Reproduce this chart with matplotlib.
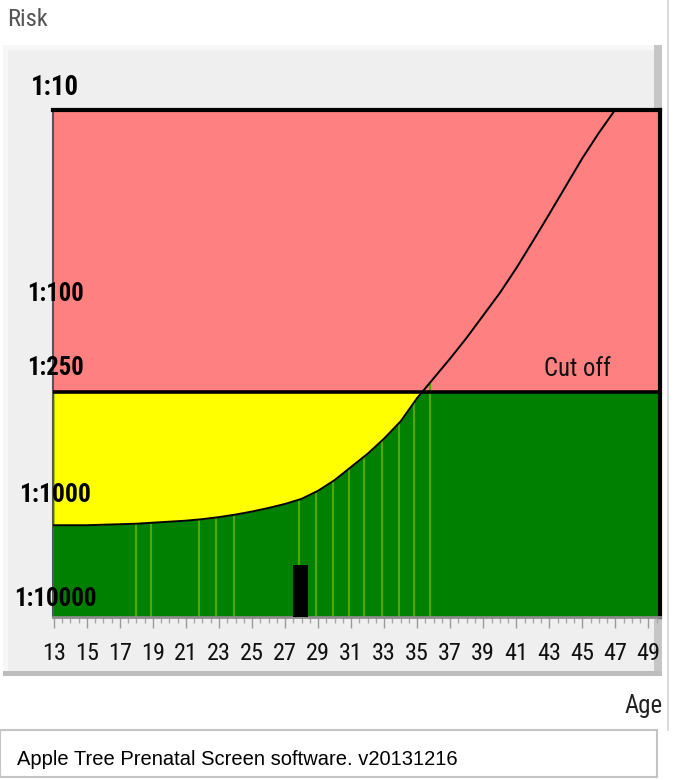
import os
import numpy as np
import matplotlib
matplotlib.use("Agg")
import matplotlib.pyplot as plt
from matplotlib.patches import Rectangle
from matplotlib.lines import Line2D
from matplotlib.ticker import MultipleLocator
from matplotlib import font_manager as fm
import matplotlib.transforms as mtrans

# ---------------- data ----------------
# x: maternal age, y: position on the risk axis (0 = bottom, 100 = top of plot)
ages = [13, 14, 15, 16, 17, 18, 19, 20, 21, 22, 23, 24, 25, 26, 27, 28, 29, 30,
        31, 32, 33, 34, 35, 36, 37, 38, 39, 40, 41, 42, 43, 44, 45, 46, 47]
risk_pos = [18.1, 18.1, 18.1, 18.2, 18.3, 18.4, 18.6, 18.8, 19.0, 19.3, 19.7,
            20.2, 20.8, 21.5, 22.3, 23.3, 24.9, 27.0, 29.6, 32.2, 35.2, 38.6,
            43.2, 47.1, 51.0, 55.1, 59.5, 63.9, 68.8, 74.1, 79.5, 85.0, 90.5,
            95.5, 100.1]
cutoff_pos = 44.4
cutoff_label = "Cut off"
marker_ages = [18.0, 18.9, 21.8, 22.8, 23.9, 27.85, 28.85, 29.9, 30.9, 31.8,
               32.85, 33.9, 34.8, 35.8]
bar_age = 27.93
bar_pos = 10.3
ytick_pos = [104.5, 63.7, 49.2, 24.1, 3.5]
ytick_labels = ["1:10", "1:100", "1:250", "1:1000", "1:10000"]
xtick_vals = list(range(13, 50, 2))
footer = "Apple Tree Prenatal Screen software. v20131216"


# ---------------- fonts: look for a narrow / condensed sans ----------------
def find_font(bold):
    entries = fm.fontManager.ttflist
    prefs = ["liberationsansnarrow", "arialnarrow", "robotocondensed",
             "notosans-condensed", "opensanscondensed", "dejavusanscondensed"]
    for p in prefs:
        for e in entries:
            b = os.path.basename(e.fname).lower().replace(" ", "")
            if p in b.replace("_", ""):
                isbold = "bold" in b
                if bold == isbold and "italic" not in b and "oblique" not in b \
                        and "semi" not in b and "extra" not in b and "light" not in b \
                        and "medium" not in b and "black" not in b and "thin" not in b:
                    return e.fname
    return None


f_reg = find_font(False)
f_bold = find_font(True)


def fprop(bold=False, size=12):
    path = f_bold if bold else f_reg
    if path:
        return fm.FontProperties(fname=path, size=size)
    return fm.FontProperties(family="Liberation Sans",
                             weight="bold" if bold else "normal", size=size)


W, H = 680, 780
fig = plt.figure(figsize=(W / 100, H / 100), dpi=100)
fig.patch.set_facecolor("white")


def fx(x):
    return x / W


def fy(y):
    return 1 - y / H


def prect(x0, y0, x1, y1, **kw):
    r = Rectangle((fx(x0), fy(y1)), fx(x1) - fx(x0), fy(y0) - fy(y1),
                  transform=fig.transFigure, **kw)
    fig.add_artist(r)
    return r


# grey panel with bevel
prect(3, 45, 662, 676, facecolor="#efefef", edgecolor="none", zorder=0)
prect(3, 45, 662, 50, facecolor="#f7f7f7", edgecolor="none", zorder=0)
prect(3, 45, 8, 676, facecolor="#f7f7f7", edgecolor="none", zorder=0)
prect(654, 45, 662, 676, facecolor="#c6c6c6", edgecolor="none", zorder=0)
prect(3, 671, 662, 676, facecolor="#bdbdbd", edgecolor="none", zorder=0)
fig.add_artist(Line2D([fx(668), fx(668)], [fy(0), fy(730)], color="#d4d4d4",
                      lw=1.2, transform=fig.transFigure, zorder=0))

# ---------------- main axes ----------------
ax = fig.add_axes([fx(53), fy(617), fx(660) - fx(53), fy(110) - fy(617)])
ax.set_xlim(12.95, 49.7)
ax.set_ylim(0, 100)
ax.set_facecolor("#008000")

ax.axhspan(cutoff_pos, 100, color="#ff8080", zorder=1, lw=0)
ages_a = np.array(ages, dtype=float)
risk_a = np.array(risk_pos)
ax.fill_between(ages_a, risk_a, cutoff_pos, where=risk_a <= cutoff_pos,
                interpolate=True, color="#ffff00", lw=0, zorder=1)

tops = np.interp(marker_ages, ages_a, risk_a)
ax.vlines(marker_ages, 0, tops, color="#52a800", lw=1.5, zorder=2)
ax.bar([bar_age], [bar_pos], width=0.9, color="black", zorder=3)

ax.axhline(cutoff_pos, color="black", lw=2.6, zorder=4)
ax.plot(ages_a, risk_a, color="black", lw=1.4, zorder=5)

fitted = []  # (text artist, target width in px)

t_cut = ax.text(42.7, cutoff_pos + 3.2, cutoff_label, fontproperties=fprop(False, 19),
                color="#111111", va="baseline", ha="left", zorder=6)
fitted.append((t_cut, 67))

# y labels centred on the left edge
trans = mtrans.blended_transform_factory(ax.transAxes, ax.transData)
ylab_widths = [48, 57, 57, 72, 83]
for p, lab, wd in zip(ytick_pos, ytick_labels, ylab_widths):
    t = ax.text(0.0035, p, lab, transform=trans, ha="center", va="center",
                fontproperties=fprop(True, 19), color="black",
                clip_on=False, zorder=7)
    fitted.append((t, wd))
ax.set_yticks([])

# x ruler
ax.set_xticks(xtick_vals)
ax.set_xticklabels([str(v) for v in xtick_vals], color="#111111")
for lbl in ax.get_xticklabels():
    lbl.set_fontproperties(fprop(False, 18))
ax.xaxis.set_minor_locator(MultipleLocator(0.5))
ax.tick_params(axis="x", which="major", length=8, width=1, color="#9a9a9a",
               pad=10)
ax.tick_params(axis="x", which="minor", length=4, width=1, color="#a8a8a8")

for s in ("top", "right"):
    ax.spines[s].set_color("black")
    ax.spines[s].set_linewidth(3)
ax.spines["left"].set_color("#555555")
ax.spines["left"].set_linewidth(1.5)
ax.spines["bottom"].set_color("#8c8c8c")
ax.spines["bottom"].set_linewidth(2)

# outer texts
t_risk = fig.text(fx(7), fy(20), "Risk", fontproperties=fprop(False, 16),
                  color="#555555", ha="left", va="center")
fitted.append((t_risk, 41))
t_age = fig.text(fx(663), fy(706), "Age", fontproperties=fprop(False, 17),
                 color="#222222", ha="right", va="center")
fitted.append((t_age, 38))

# footer box
prect(0, 730, 657, 777, facecolor="white", edgecolor="#c4c4c4", lw=1.5, zorder=1)
fig.text(fx(17), fy(765), footer, family="Liberation Sans", fontsize=14.5,
         color="black", ha="left", va="baseline")

# fit text sizes to the widths measured on the reference
fig.canvas.draw()
r = fig.canvas.get_renderer()
for t, wd in fitted:
    bw = t.get_window_extent(r).width
    if bw > 0:
        t.set_fontsize(min(t.get_fontsize() * wd / bw, 24))
xl = ax.get_xticklabels()
bw = xl[0].get_window_extent(r).width
if bw > 0:
    new = min(xl[0].get_fontsize() * 24 / bw, 22)
    for lbl in xl:
        lbl.set_fontsize(new)

fig.savefig("out.png", dpi=100)
